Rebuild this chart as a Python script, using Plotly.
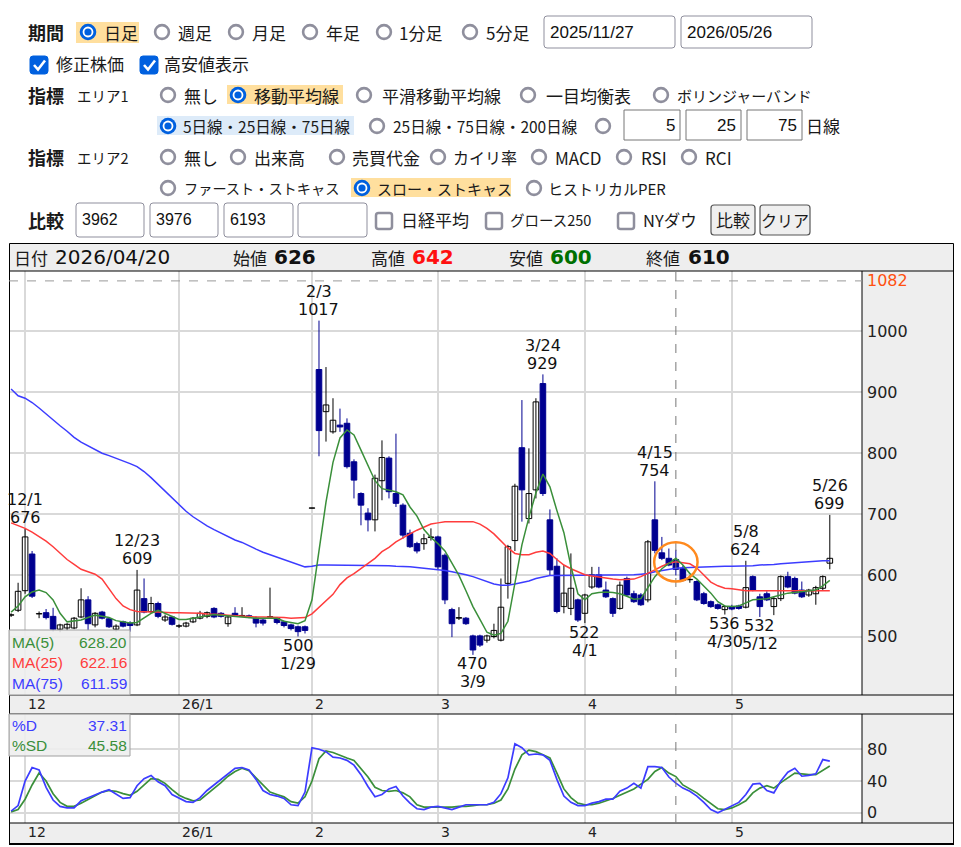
import plotly.graph_objects as go

W, H = 961, 847

# ---------------- data ----------------
month_days = {
    "2025/11": [27, 28],
    "2025/12": [1, 2, 3, 4, 5, 8, 9, 10, 11, 12, 15, 16, 17, 18, 19, 22, 23, 24, 25, 26, 29, 30],
    "2026/01": [5, 6, 7, 8, 9, 13, 14, 15, 16, 19, 20, 21, 22, 23, 26, 27, 28, 29, 30],
    "2026/02": [2, 3, 4, 5, 6, 9, 10, 12, 13, 16, 17, 18, 19, 20, 24, 25, 26, 27],
    "2026/03": [2, 3, 4, 5, 6, 9, 10, 11, 12, 13, 16, 17, 18, 19, 23, 24, 25, 26, 27, 30, 31],
    "2026/04": [1, 2, 3, 6, 7, 8, 9, 10, 13, 14, 15, 16, 17, 20, 21, 22, 23, 24, 27, 28, 30],
    "2026/05": [1, 7, 8, 11, 12, 13, 14, 15, 18, 19, 20, 21, 22, 25, 26],
}
dates = [f"{ym}/{d:02d}" for ym, ds in month_days.items() for d in ds]

opens = [535, 543, 575, 635, 537, 539, 533, 512, 514, 514, 532, 560, 519, 540, 529, 512, 524, 522, 519, 562,
         541, 554, 527, 532, 517, 517, 524, 530, 533, 546, 538, 521, 538, 534, 534, 530, 527, 532, 530, 524,
         519, 516, 516, 710, 937, 868, 835, 846, 849, 786, 734, 702, 691, 755, 792, 734, 715, 669, 652, 652,
         662, 663, 633, 544, 530, 530, 501, 501, 494, 500, 494, 587, 657, 809, 693, 740, 914, 691, 615, 549,
         546, 560, 538, 581, 601, 576, 562, 546, 595, 570, 568, 560, 691, 637, 628, 626, 611, 593, 590, 570,
         557, 552, 544, 549, 550, 548, 598, 565, 570, 549, 562, 598, 595, 576, 568, 570, 579, 620]
highs = [538, 588, 676, 640, 541, 545, 547, 521, 522, 532, 579, 566, 540, 542, 531, 520, 526, 525, 609, 595,
         565, 557, 536, 534, 520, 524, 532, 542, 541, 548, 540, 534, 548, 548, 536, 533, 529, 580, 532, 526,
         521, 518, 518, 710.5, 1017, 941, 890, 873, 857, 790, 736, 710, 765, 821, 795, 832, 718, 675, 655, 668,
         677, 665, 636, 547, 548, 532, 503, 503, 503, 521, 595, 650, 750, 887, 808, 890, 929, 708, 628, 617,
         636, 562, 570, 614, 614, 590, 564, 590, 598, 575, 571, 658, 754, 663, 644, 642, 616, 600, 592, 573,
         559, 554, 551, 552, 552, 624, 600, 570, 574, 565, 600, 606, 598, 590, 578, 583, 600, 699]
lows = [532, 540, 570, 563, 530, 528, 508, 507, 510, 512, 530, 510, 515, 528, 514, 508, 515, 508, 517, 538,
        538, 530, 524, 518, 514, 515, 522, 528, 530, 530, 531, 516, 532, 532, 530, 515, 518, 530, 520, 515,
        510, 500, 505, 710, 795, 819, 832, 835, 775, 726, 682, 672, 672, 723, 726, 712, 660, 645, 636, 642,
        657, 610, 553, 499, 527, 519, 470, 483, 490, 497, 492, 562, 640, 688, 685, 726, 730, 600, 538, 538,
        535, 524, 522, 578, 579, 563, 532, 544, 566, 555, 550, 556, 636, 625, 615, 600, 590, 588, 558, 552,
        547, 544, 536, 543, 544, 546, 574, 532, 558, 535, 558, 579, 569, 563, 565, 552, 575, 610]
closes = [535.5, 574, 663, 566, 537.5, 531, 512, 519, 520, 530, 560, 521, 538, 530, 516, 517, 517, 518, 576, 540,
          554, 533, 532, 520, 517.5, 522, 530, 538, 539, 532, 533, 532, 533, 534.5, 532, 522, 522, 532.5, 523, 518,
          513, 508, 510, 710.5, 837, 879, 854, 843, 778, 756, 715, 691, 759, 793, 737, 718, 666, 647, 640, 660,
          663, 614, 560, 521, 531, 521, 478, 486, 501, 510, 548, 647, 746, 740, 734, 884, 734, 609, 541, 571,
          579, 527, 568, 601, 581, 565, 538, 584, 568, 557, 552, 655, 641, 628, 617, 610, 592, 593.5, 560, 554,
          549, 546, 549, 545, 546, 580, 576, 549, 560, 562, 598, 581, 571, 565, 576, 580, 598, 628]

ma5 = [540, 550, 565, 573, 576, 572, 560, 538, 524, 525, 527, 531, 535, 533, 531, 526, 524, 522, 523, 530,
       538, 543, 538, 533, 528, 528, 530, 532, 535, 536, 535, 534, 532, 531, 530, 530, 530, 530, 530, 525,
       523, 521, 526, 560, 640, 720, 785, 825, 838, 830, 805, 780, 755, 742, 739, 737, 732, 712, 697, 675,
       662, 652, 640, 620, 600, 575, 549, 528, 507, 502, 505, 525, 585, 650, 695, 735, 766, 745, 706, 670,
       615, 570, 560, 570, 572, 573, 572, 570, 566, 561, 562, 581, 598, 611, 620, 628.20, 617, 603, 594, 583,
       571, 557, 550, 549, 550, 555, 560, 561, 562, 565, 568, 571, 572, 573, 574, 576, 583, 592]
ma25 = [686, 682, 677, 671, 664, 656, 647, 637, 626, 618, 610, 606, 602, 594, 578, 562, 550, 544, 541, 540,
        540, 540, 539, 539, 539, 539, 538, 538, 537, 537, 536, 535, 534, 533, 533, 532, 532, 532, 531, 531,
        530, 530, 531, 537, 548, 558, 569, 585, 596, 603, 611, 620, 628, 639, 646, 655, 662, 668, 674, 679,
        684, 686, 688, 688, 688, 688, 688, 684, 677, 668, 657, 645, 636, 634, 634, 638, 640, 636, 626, 617,
        611, 606, 601, 599, 597, 595, 594, 593, 593, 594, 598, 603, 609, 615, 620, 622.16, 621, 619, 612, 601,
        589, 583, 579, 578, 576, 575, 575, 575, 575, 575, 576, 576, 576, 576, 575, 575, 575, 575]
ma75 = [905, 894, 890, 883, 874, 864, 854, 845, 836, 826, 818, 812, 806, 800, 796, 792, 788, 783, 778, 770,
        760, 749, 737, 726, 716, 705, 696, 688, 681, 675, 669, 664, 658, 654, 648, 643, 638, 634, 630, 626,
        622, 617, 614, 615, 617, 617, 617, 617, 617, 617, 617, 617, 617, 616, 616, 615, 615, 614, 613, 612,
        611, 609, 608, 606, 604, 601, 598, 594, 590, 586, 584, 584, 586, 588, 591, 595, 598, 600, 600, 600,
        600, 600, 600, 601, 601, 601, 601, 601, 601, 601, 602, 603, 606, 608, 610, 611.59, 612.5, 613, 614, 614,
        614, 615, 615, 615, 615, 616, 616, 617, 617, 618, 619, 620, 621, 622, 622, 623, 624, 624]

pct_d = [2, 9, 40, 57, 54, 32, 16, 8, 6, 6, 15, 19, 23, 26, 29, 23, 18, 19, 34, 43,
         47, 39, 34, 23, 19, 14, 13, 19, 28, 35, 42, 50, 56, 57, 54, 42, 28, 23, 21, 18,
         10, 9, 26, 82, 80, 77, 70, 69, 66, 60, 48, 33, 20, 23, 30, 33, 21, 12, 5, 4,
         7, 8, 6, 4, 7, 10, 10, 10, 10, 13, 24, 44, 87, 82, 73, 74, 73, 66, 42, 21,
         13, 9, 9, 12, 14, 17, 17, 27, 31, 37, 31, 58, 58, 57, 45, 37.31, 31, 27, 21, 13,
         4, 0, 4, 9, 13, 23, 36, 37, 28, 25, 40, 51, 56, 46, 47, 49, 67, 65]
pct_sd = [1, 4, 17, 35, 50, 40, 24, 13, 8, 8, 12, 17, 22, 26, 28, 27, 24, 22, 27, 35,
          43, 42, 37, 29, 22, 18, 15, 16, 23, 30, 38, 46, 52, 56, 53, 44, 35, 26, 23, 20,
          14, 12, 20, 40, 68, 78, 76, 72, 69, 66, 56, 45, 32, 28, 27, 28, 25, 20, 10, 7,
          7, 7, 7, 7, 8, 8, 9, 10, 10, 12, 16, 30, 55, 73, 79, 77, 73, 69, 50, 30,
          19, 12, 10, 10, 12, 15, 18, 22, 26, 30, 36, 42, 52, 57, 50, 45.58, 35, 30, 25, 18,
          12, 5, 4, 6, 10, 15, 25, 31, 34, 31, 38, 44, 50, 49, 48, 48, 53, 59]

tick_dates = ["2025/12/01", "2026/01/05", "2026/02/02", "2026/03/02", "2026/04/01", "2026/05/01"]
tick_text = ["12", "26/1", "2", "3", "4", "5"]
price_ticks = [500, 600, 700, 800, 900, 1000]
stoch_ticks = [0, 40, 80]
period_high = 1082
high_marks = ["2025/12/01", "2025/12/23", "2026/02/03", "2026/03/24", "2026/04/15", "2026/05/08", "2026/05/26"]
low_marks = ["2026/01/29", "2026/03/09", "2026/04/01", "2026/04/30", "2026/05/12"]
sel_date = "2026/04/20"

# ---------------- styles ----------------
JP = "Noto Sans CJK JP"
NUM = "DejaVu Sans"
INP = "Liberation Sans"
NAVY = "#000090"
BLUE_L = "#3C3CFF"
RED_L = "#FF3C3C"
GREEN_L = "#3A8F3A"
GRID = "#D9D9D9"
BAND = "#EEEEEE"
UIBLUE = "#0060DF"
UIGRAY = "#8F8F9D"
TXT = "#1A1A1A"

shapes, annots = [], []


def fx(x):
    return x / W


def fy(y):
    return 1 - y / H


def rect(x0, y0, x1, y1, fill=None, line=None, lw=1, layer="above"):
    shapes.append(dict(type="rect", xref="paper", yref="paper", x0=fx(x0), x1=fx(x1), y0=fy(y1), y1=fy(y0),
                       fillcolor=fill or "rgba(0,0,0,0)",
                       line=dict(color=line or "rgba(0,0,0,0)", width=lw if line else 0), layer=layer))


def seg(x0, y0, x1, y1, color="black", lw=1, dash="solid"):
    shapes.append(dict(type="line", xref="paper", yref="paper", x0=fx(x0), x1=fx(x1), y0=fy(y0), y1=fy(y1),
                       line=dict(color=color, width=lw, dash=dash), layer="above"))


def circle(cx, cy, r, fill=None, line=None, lw=0):
    shapes.append(dict(type="circle", xref="paper", yref="paper", x0=fx(cx - r), x1=fx(cx + r),
                       y0=fy(cy + r), y1=fy(cy - r), fillcolor=fill or "rgba(0,0,0,0)",
                       line=dict(color=line or "rgba(0,0,0,0)", width=lw), layer="above"))


def rrect(x0, y0, x1, y1, r, fill="white", line=UIGRAY, lw=1):
    p = (f"M {fx(x0 + r)} {fy(y0)} L {fx(x1 - r)} {fy(y0)} Q {fx(x1)} {fy(y0)} {fx(x1)} {fy(y0 + r)} "
         f"L {fx(x1)} {fy(y1 - r)} Q {fx(x1)} {fy(y1)} {fx(x1 - r)} {fy(y1)} "
         f"L {fx(x0 + r)} {fy(y1)} Q {fx(x0)} {fy(y1)} {fx(x0)} {fy(y1 - r)} "
         f"L {fx(x0)} {fy(y0 + r)} Q {fx(x0)} {fy(y0)} {fx(x0 + r)} {fy(y0)} Z")
    shapes.append(dict(type="path", xref="paper", yref="paper", path=p, fillcolor=fill,
                       line=dict(color=line, width=lw), layer="above"))


def text(x, y, s, size=17, color=TXT, family=JP, anchor="left"):
    annots.append(dict(xref="paper", yref="paper", x=fx(x), y=fy(y), text=s, showarrow=False,
                       xanchor=anchor, yanchor="middle", font=dict(family=family, size=size, color=color)))


def radio(cx, cy, selected=False):
    if selected:
        circle(cx, cy, 8.3, fill=UIBLUE)
        circle(cx, cy, 5.4, fill="white")
        circle(cx, cy, 3.6, fill=UIBLUE)
    else:
        circle(cx, cy, 6.9, fill="white", line=UIGRAY, lw=2.6)


def checkbox(x0, y0, checked):
    if checked:
        rrect(x0, y0, x0 + 18, y0 + 18, 3, fill=UIBLUE, line=UIBLUE, lw=1)
        shapes.append(dict(type="path", xref="paper", yref="paper",
                           path=f"M {fx(x0 + 4)} {fy(y0 + 9)} L {fx(x0 + 8)} {fy(y0 + 13.5)} L {fx(x0 + 15)} {fy(y0 + 4.5)}",
                           line=dict(color="white", width=2.6), layer="above"))
    else:
        rrect(x0 + 1, y0 + 1, x0 + 17, y0 + 17, 2.5, fill="white", line=UIGRAY, lw=2.5)


# ---------------- top controls ----------------
# row 1
text(26, 32, "<b>期間</b>", 18)
rect(76, 22, 139, 43, fill="#FFDF9E")
radio(88, 32, True); text(102, 32, "日足")
radio(162, 32); text(176, 32, "週足")
radio(236, 32); text(250, 32, "月足")
radio(310, 32); text(324, 32, "年足")
radio(384, 32); text(397, 32, "1分足")
radio(470, 32); text(484, 32, "5分足")
rrect(544, 16, 675, 48, 3); text(548, 32, "2025/11/27", 17, "#111", INP)
rrect(681, 16, 812, 48, 3); text(685, 32, "2026/05/26", 17, "#111", INP)
# row 2
checkbox(30, 56, True); text(54, 64, "修正株価")
checkbox(140, 56, True); text(162, 64, "高安値表示")
# row 3
text(26, 95, "<b>指標</b>", 18); text(75, 95, "エリア1", 14.5)
radio(168, 95); text(182, 95, "無し")
rect(227, 85, 343, 104, fill="#FFDF9E")
radio(238, 95, True); text(252, 95, "移動平均線")
radio(364, 95); text(380, 95, "平滑移動平均線")
radio(528, 95); text(544, 95, "一目均衡表")
radio(661, 95); text(675, 95, "ボリンジャーバンド", 15)
# row 4
rect(157, 116, 354, 135, fill="#DDEBF9")
radio(168, 126, True); text(181, 126, "5日線・25日線・75日線", 15.5)
radio(377, 126); text(391, 126, "25日線・75日線・200日線", 15.5)
radio(603, 126)
for bx0, bx1, s in [(624, 680, "5"), (686, 741, "25"), (747, 802, "75")]:
    rect(bx0, 110, bx1, 140, fill="white", line="#767676", lw=1)
    text(bx1 - 3, 126, s, 17, "#111", INP, anchor="right")
text(804, 126, "日線")
# row 5
text(26, 157, "<b>指標</b>", 18); text(75, 157, "エリア2", 14.5)
for rx, tx, s, sz in [(168, 182, "無し", 17), (238, 252, "出来高", 17), (337, 350, "売買代金", 17),
                      (438, 451, "カイリ率", 16), (539, 553, "MACD", 17), (624, 639, "RSI", 17),
                      (689, 703, "RCI", 17)]:
    radio(rx, 157); text(tx, 157, s, sz)
# row 6
radio(168, 188); text(182, 188, "ファースト・ストキャス", 14.2)
rect(351, 178, 511, 197, fill="#FFDF9E")
radio(362, 188, True); text(375, 188, "スロー・ストキャス", 15)
radio(534, 188); text(546, 188, "ヒストリカルPER", 15)
# row 7
text(26, 220, "<b>比較</b>", 18)
for bx0, bx1, s in [(76, 144, "3962"), (150, 218, "3976"), (224, 293, "6193"), (298, 367, "")]:
    rrect(bx0, 203, bx1, 237, 3)
    if s:
        text(bx0 + 4, 220, s, 16, "#111", INP)
checkbox(375, 212, False); text(399, 220, "日経平均")
checkbox(485, 212, False); text(508, 220, "グロース250", 14.5)
checkbox(617, 212, False); text(641, 220, "NYダウ", 16.5)
rrect(711, 205, 755, 235, 3, fill="#EFEFEF", line="#555555", lw=1.2); text(733, 220, "比較", 17, anchor="center")
rrect(760, 205, 810, 235, 3, fill="#EFEFEF", line="#555555", lw=1.2); text(785, 220, "クリア", 16, anchor="center")

# ---------------- chart frame & bands ----------------
rect(9, 243, 953, 271, fill=BAND, layer="below")
rect(862, 271, 953, 695, fill=BAND, layer="below")
rect(9, 695, 953, 714, fill=BAND, layer="below")
rect(862, 714, 953, 823, fill=BAND, layer="below")
rect(9, 823, 953, 844, fill=BAND, layer="below")
seg(9.5, 243.5, 953.5, 243.5); seg(9.5, 243.5, 9.5, 844); seg(953.5, 243.5, 953.5, 844)
seg(9, 844, 954, 844, lw=2)
for yy in (271, 695, 714, 823):
    seg(9.5, yy, 953.5, yy)
seg(862, 271, 862, 695); seg(862, 714, 862, 823)

sel = dates.index(sel_date)

# header
text(12, 257, "日付", 17)
text(53, 257, sel_date, 20, "#111", NUM)
text(231, 257, "始値", 17); text(272, 257, f"<b>{opens[sel]:.0f}</b>", 20, "#111", NUM)
text(369, 257, "高値", 17); text(410, 257, f"<b>{highs[sel]:.0f}</b>", 20, "#FF1010", NUM)
text(507, 257, "安値", 17); text(548, 257, f"<b>{lows[sel]:.0f}</b>", 20, "#007000", NUM)
text(644, 257, "終値", 17); text(686, 257, f"<b>{closes[sel]:.0f}</b>", 20, "#111", NUM)

# ---------------- traces ----------------
fig = go.Figure()

# candles: wicks (lines) then bodies (bars), split by direction
for up, col, fill in [(True, "#000000", "#FFFFFF"), (False, NAVY, NAVY)]:
    idx = [i for i in range(len(dates)) if (closes[i] >= opens[i]) == up]
    wx, wy = [], []
    for i in idx:
        wx += [dates[i], dates[i], None]
        wy += [lows[i], highs[i], None]
    fig.add_trace(go.Scatter(x=wx, y=wy, mode="lines", line=dict(color=col, width=1),
                             hoverinfo="skip", showlegend=False, xaxis="x", yaxis="y"))
for up, col, fill in [(True, "#000000", "#FFFFFF"), (False, NAVY, NAVY)]:
    idx = [i for i in range(len(dates)) if (closes[i] >= opens[i]) == up]
    fig.add_trace(go.Bar(x=[dates[i] for i in idx],
                         base=[min(opens[i], closes[i]) for i in idx],
                         y=[max(abs(closes[i] - opens[i]), 0.4) for i in idx],
                         width=0.8, marker=dict(color=fill, line=dict(color=col, width=1)),
                         hoverinfo="skip", showlegend=False, xaxis="x", yaxis="y"))

for vals, col in [(ma75, BLUE_L), (ma25, RED_L), (ma5, GREEN_L)]:
    fig.add_trace(go.Scatter(x=dates, y=vals, mode="lines", line=dict(color=col, width=1.5),
                             hoverinfo="skip", showlegend=False, xaxis="x", yaxis="y"))
fig.add_trace(go.Scatter(x=dates, y=pct_sd, mode="lines", line=dict(color=GREEN_L, width=1.7),
                         hoverinfo="skip", showlegend=False, xaxis="x2", yaxis="y2"))
fig.add_trace(go.Scatter(x=dates, y=pct_d, mode="lines", line=dict(color=BLUE_L, width=1.7),
                         hoverinfo="skip", showlegend=False, xaxis="x2", yaxis="y2"))

# crosshair, period-high line, highlight circle
shapes.append(dict(type="line", xref="x", yref="paper", x0=sel, x1=sel, y0=fy(695), y1=fy(271),
                   line=dict(color="#777777", width=1, dash="dash"), layer="above"))
shapes.append(dict(type="line", xref="x2", yref="paper", x0=sel, x1=sel, y0=fy(823), y1=fy(714),
                   line=dict(color="#777777", width=1, dash="dash"), layer="above"))
shapes.append(dict(type="line", xref="paper", yref="y", x0=fx(9), x1=fx(862), y0=period_high, y1=period_high,
                   line=dict(color="#999999", width=1, dash="dash"), layer="above"))
shapes.append(dict(type="circle", xref="x", yref="y", x0=sel - 3.1, x1=sel + 3.1,
                   y0=ma25[sel] - 32, y1=ma25[sel] + 32, line=dict(color="#FF8A1E", width=2.5), layer="above"))
annots.append(dict(xref="paper", yref="y", x=fx(865), y=period_high, text=str(period_high), showarrow=False,
                   xanchor="left", yanchor="middle", font=dict(family=NUM, size=16, color="#FF5010")))

# high / low labels
for d in high_marks:
    i = dates.index(d)
    m, dd = int(d[5:7]), int(d[8:10])
    for s, sh in [(f"{highs[i]:.0f}", 11), (f"{m}/{dd}", 29)]:
        annots.append(dict(xref="x", yref="y", x=i, y=highs[i], text=s, showarrow=False, xanchor="center",
                           yanchor="middle", yshift=sh, font=dict(family=NUM, size=16, color="#111")))
for d in low_marks:
    i = dates.index(d)
    m, dd = int(d[5:7]), int(d[8:10])
    for s, sh in [(f"{lows[i]:.0f}", -9), (f"{m}/{dd}", -27)]:
        annots.append(dict(xref="x", yref="y", x=i, y=lows[i], text=s, showarrow=False, xanchor="center",
                           yanchor="middle", yshift=sh, font=dict(family=NUM, size=16, color="#111")))

# month labels in bands
for td, tt in zip(tick_dates, tick_text):
    for xr, yy in [("x", 704), ("x2", 832)]:
        annots.append(dict(xref=xr, yref="paper", x=dates.index(td), y=fy(yy), text=tt, showarrow=False,
                           xanchor="left", yanchor="middle", xshift=1, font=dict(family=NUM, size=14, color="#222")))

# legends
rect(9, 630, 130, 695, fill="rgba(238,238,238,0.88)", line="#A0A0A0", lw=1)
for (lab, vals, col, yy) in [("MA(5)", ma5, GREEN_L, 642), ("MA(25)", ma25, RED_L, 662), ("MA(75)", ma75, BLUE_L, 683)]:
    text(10, yy, lab, 15.5, col, INP)
    text(129, yy, f"{vals[sel]:.2f}", 15.5, col, INP, anchor="right")
rect(9, 714, 130, 756, fill="rgba(238,238,238,0.88)", line="#A0A0A0", lw=1)
text(10, 725, "%D", 15.5, BLUE_L, INP); text(129, 725, f"{pct_d[sel]:.2f}", 15.5, BLUE_L, INP, anchor="right")
text(10, 745, "%SD", 15.5, GREEN_L, INP); text(129, 745, f"{pct_sd[sel]:.2f}", 15.5, GREEN_L, INP, anchor="right")

# ---------------- layout ----------------
xcommon = dict(type="category", categoryorder="array", categoryarray=dates,
               range=[-0.3, 121.6], tickvals=tick_dates, showticklabels=False,
               showgrid=True, gridcolor=GRID, gridwidth=1.5, zeroline=False, showline=False,
               ticks="", fixedrange=True, domain=[fx(9), fx(862)])
fig.update_layout(
    width=W, height=H, margin=dict(l=0, r=0, t=0, b=0, pad=0),
    paper_bgcolor="white", plot_bgcolor="white", showlegend=False,
    barmode="overlay", hovermode=False,
    xaxis=dict(**xcommon, anchor="y"),
    yaxis=dict(domain=[fy(695), fy(271)], range=[404.3, 1098.2], tickvals=price_ticks, side="right",
               showgrid=True, gridcolor=GRID, gridwidth=1.5, zeroline=False, showline=False, ticks="",
               ticklabelstandoff=4, tickfont=dict(family=NUM, size=16, color="#222"), anchor="x", fixedrange=True),
    xaxis2=dict(**xcommon, anchor="y2"),
    yaxis2=dict(domain=[fy(823), fy(714)], range=[-13, 124.5], tickvals=stoch_ticks, side="right",
                showgrid=True, gridcolor=GRID, gridwidth=1.5, zeroline=False, showline=False, ticks="",
                ticklabelstandoff=4, tickfont=dict(family=NUM, size=16, color="#222"), anchor="x2", fixedrange=True),
    shapes=shapes, annotations=annots,
)

fig.write_html("out.html", config={"displayModeBar": False})
